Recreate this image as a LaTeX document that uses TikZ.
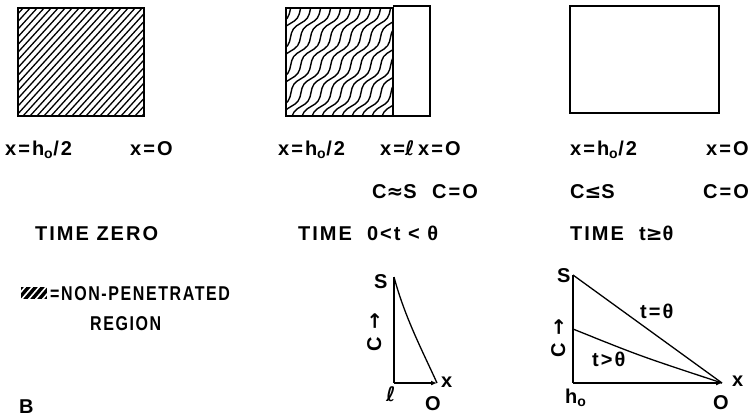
\documentclass[tikz,border=0pt]{standalone}
\usepackage{fontspec}
\setmainfont[LetterSpace=10]{Liberation Sans}
\newfontfamily\symfont{DejaVu Sans}
\usepackage{tikz}
\usetikzlibrary{arrows.meta, decorations.pathmorphing}

\begin{document}
\begin{tikzpicture}[x=1pt, y=-1pt,
    lbl/.style={anchor=base west, inner sep=0pt, font=\fontsize{20}{22}\selectfont\bfseries},
    narrow/.style={xscale=0.8, transform shape},
    frame/.style={line width=2pt},
    hatch/.style={line width=1.3pt},
    wavy/.style={line width=1.4pt, decorate, decoration={snake, amplitude=2.5pt, segment length=34pt}},
    axis/.style={line width=2.2pt},
    profile/.style={line width=1.3pt}]
    \useasboundingbox (0,0) rectangle (749,417);

    % Time zero block
    \begin{scope}
        \clip (18,8) rectangle (144,116);
        \foreach \k in {-110,-103,...,150}
            \draw[hatch] (\k,116) -- ++(120,-132);
    \end{scope}
    \draw[frame] (18,8) rectangle (144,116);
    \node[lbl] (zeroH) at (5,155) {x=h\textsubscript{o}/2};
    \node[lbl] (zeroO) at (130,155) {x=O};
    \node[lbl] (zeroTime) at (35,240) {TIME ZERO};

    % Partly penetrated block
    \begin{scope}
        \clip (286,8) rectangle (393,116);
        \foreach \k in {170,180,...,400}
            \draw[wavy] (\k,122) -- ++(100,-140);
    \end{scope}
    \draw[frame] (286,8) rectangle (393,116);
    \draw[frame] (393,6) -- (430,6) -- (430,116) -- (393,116);
    \node[lbl] (midH) at (278,155) {x=h\textsubscript{o}/2};
    \node[lbl] (midL) at (380,155) {x={\symfont ℓ}};
    \node[lbl] (midO) at (418,155) {x=O};
    \node[lbl] (midCS) at (372,198) {C{\symfont ≈}S};
    \node[lbl] (midCO) at (432,198) {C=O};
    \node[lbl] (midTime) at (298,240) {TIME\ \ 0<t < θ};

    % Fully penetrated block
    \draw[frame] (570,6) rectangle (719,113);
    \node[lbl] (endH) at (570,155) {x=h\textsubscript{o}/2};
    \node[lbl] (endO) at (706,155) {x=O};
    \node[lbl] (endCS) at (570,198) {C{\symfont ≤}S};
    \node[lbl] (endCO) at (703,198) {C=O};
    \node[lbl] (endTime) at (570,240) {TIME\ \ t{\symfont ≥}θ};

    % Legend
    \fill (21,287) rectangle (47,299);
    \begin{scope}
        \clip (21,287) rectangle (47,299);
        \foreach \k in {14,21,...,50}
            \draw[white, line width=1.6pt] (\k,300) -- ++(12,-14);
    \end{scope}
    \node[lbl, narrow] (keyTop) at (50,300) {=NON-PENETRATED};
    \node[lbl, narrow] (keyBot) at (90,330) {REGION};

    % Profile during penetration
    \coordinate (mS) at (394,277);
    \coordinate (mL) at (394,383);
    \coordinate (mX) at (437,383);
    \draw[axis] (mS) -- (mL);
    \draw[axis, -{Latex[length=6pt, width=5pt]}] (mL) -- (mX);
    \draw[profile] (mS) .. controls (405,318) and (423,352) .. (mX);
    \node[lbl] (mSlbl) at (374,288) {S};
    \node[lbl, rotate=90] (mClbl) at (381,352) {C {\symfont →}};
    \node[lbl] (mLlbl) at (386,401) {\symfont ℓ};
    \node[lbl] (mOlbl) at (425,410) {O};
    \node[lbl] (mXlbl) at (441,387) {x};

    % Profiles after penetration
    \coordinate (rS) at (573,275);
    \coordinate (rC) at (573,329);
    \coordinate (rH) at (573,383);
    \coordinate (rX) at (722,383);
    \draw[axis] (rS) -- (rH);
    \draw[axis, -{Latex[length=6pt, width=5pt]}] (rH) -- (rX);
    \draw[profile] (rS) -- (rX);
    \draw[profile] (rC) .. controls (640,356) .. (rX);
    \node[lbl] (rSlbl) at (557,282) {S};
    \node[lbl, rotate=90] (rClbl) at (565,358) {C {\symfont →}};
    \node[lbl] (rTeq) at (640,318) {t=θ};
    \node[lbl] (rTgt) at (592,366) {t>θ};
    \node[lbl] (rHlbl) at (565,403) {h\textsubscript{o}};
    \node[lbl] (rOlbl) at (713,409) {O};
    \node[lbl] (rXlbl) at (732,386) {x};

    \node[lbl] (part) at (19,413) {B};
\end{tikzpicture}
\end{document}
